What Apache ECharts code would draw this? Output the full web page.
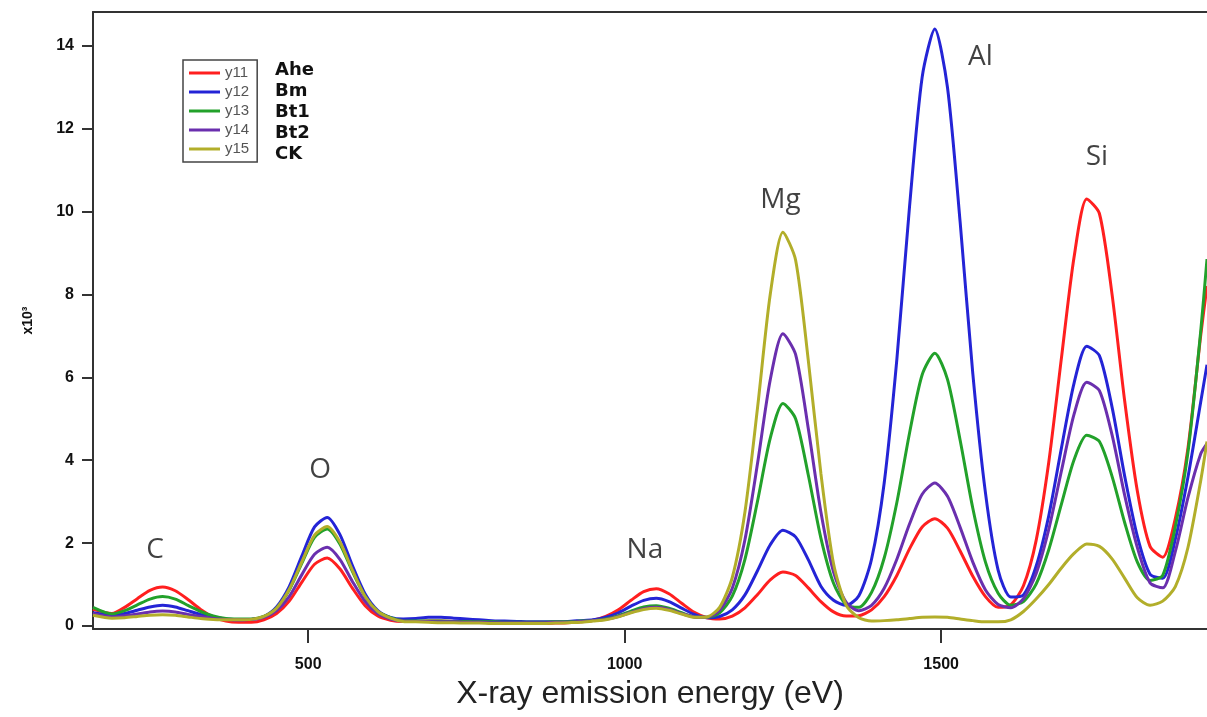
<!DOCTYPE html>
<html>
<head>
<meta charset="utf-8">
<script src="https://cdn.jsdelivr.net/npm/echarts@6/dist/echarts.min.js"></script>
<style>
html,body{margin:0;padding:0;background:#fff;}
#chart{width:1207px;height:717px;}
</style>
</head>
<body>
<div id="chart"></div>
<script>
// X-ray emission energy (eV)
const energy = [160,190,210,230,250,270,290,310,330,350,370,390,410,430,450,470,490,510,530,550,570,590,610,630,650,670,690,710,730,750,770,790,810,830,850,870,890,910,930,950,970,990,1010,1030,1050,1070,1090,1110,1130,1150,1170,1190,1210,1230,1250,1270,1290,1310,1330,1350,1370,1390,1410,1430,1450,1470,1490,1510,1530,1550,1570,1590,1610,1630,1650,1670,1690,1710,1730,1750,1770,1790,1810,1830,1850,1870,1890,1910,1920];

// counts, x10^3
const ahe = [0.40,0.30,0.45,0.66,0.86,0.94,0.85,0.64,0.40,0.22,
  0.12,0.09,0.09,0.15,0.30,0.60,1.06,1.49,1.64,1.38,
  0.91,0.49,0.24,0.14,0.11,0.11,0.12,0.12,0.11,0.10,
  0.09,0.08,0.07,0.07,0.06,0.06,0.07,0.08,0.10,0.14,
  0.23,0.39,0.62,0.83,0.90,0.78,0.55,0.33,0.20,0.17,
  0.24,0.44,0.76,1.11,1.30,1.22,0.92,0.59,0.34,0.24,
  0.25,0.39,0.71,1.22,1.86,2.39,2.59,2.36,1.81,1.20,
  0.71,0.45,0.51,0.97,2.06,3.95,6.46,8.90,10.30,9.95,
  8.00,5.42,3.25,1.92,1.66,2.60,4.30,7.00,8.20];

const bm = [0.32,0.26,0.30,0.38,0.46,0.50,0.46,0.37,0.28,0.21,
  0.17,0.15,0.16,0.23,0.46,0.95,1.69,2.39,2.62,2.21,
  1.45,0.77,0.37,0.21,0.17,0.18,0.21,0.21,0.19,0.17,
  0.15,0.13,0.12,0.11,0.10,0.10,0.10,0.11,0.13,0.15,
  0.21,0.32,0.48,0.62,0.67,0.59,0.43,0.28,0.20,0.23,
  0.39,0.75,1.34,1.96,2.31,2.15,1.60,0.96,0.62,0.50,
  0.73,1.61,3.45,6.43,10.11,13.24,14.40,12.99,9.74,6.09,
  3.21,1.35,0.70,0.75,1.44,2.66,4.29,5.86,6.75,6.52,
  5.28,3.61,2.16,1.25,1.15,2.10,3.60,5.40,6.30];

const bt1 = [0.45,0.29,0.37,0.51,0.65,0.71,0.65,0.50,0.35,0.24,
  0.18,0.17,0.17,0.23,0.43,0.87,1.52,2.14,2.34,1.98,
  1.31,0.71,0.35,0.20,0.13,0.12,0.12,0.12,0.11,0.11,
  0.10,0.10,0.09,0.09,0.09,0.09,0.10,0.10,0.12,0.13,
  0.17,0.25,0.36,0.46,0.49,0.43,0.32,0.22,0.21,0.32,
  0.72,1.61,3.02,4.53,5.37,5.00,3.65,2.12,1.03,0.51,
  0.45,0.81,1.64,2.98,4.65,6.06,6.58,5.95,4.48,2.84,
  1.54,0.79,0.50,0.59,1.01,1.84,2.94,4.01,4.60,4.45,
  3.61,2.49,1.54,1.10,1.22,2.40,4.20,7.10,8.85];

const bt2 = [0.30,0.22,0.25,0.29,0.34,0.36,0.34,0.28,0.23,0.18,
  0.16,0.15,0.16,0.21,0.37,0.71,1.24,1.73,1.90,1.61,
  1.07,0.59,0.30,0.17,0.12,0.11,0.11,0.10,0.10,0.09,
  0.09,0.08,0.08,0.08,0.08,0.08,0.09,0.09,0.11,0.13,
  0.16,0.23,0.33,0.42,0.45,0.40,0.30,0.22,0.21,0.38,
  0.91,2.08,3.93,5.94,7.05,6.55,4.77,2.75,1.30,0.57,
  0.37,0.50,0.91,1.61,2.46,3.18,3.45,3.13,2.38,1.54,
  0.87,0.52,0.44,0.66,1.26,2.33,3.74,5.11,5.88,5.68,
  4.61,3.15,1.89,1.04,0.92,1.80,3.10,4.15,4.40];

const ck = [0.26,0.19,0.20,0.23,0.26,0.27,0.26,0.22,0.18,0.16,
  0.15,0.15,0.16,0.23,0.43,0.88,1.55,2.19,2.40,2.03,
  1.34,0.71,0.35,0.19,0.11,0.10,0.09,0.08,0.08,0.07,
  0.07,0.06,0.06,0.06,0.06,0.06,0.07,0.08,0.09,0.12,
  0.15,0.22,0.32,0.40,0.43,0.38,0.29,0.21,0.22,0.45,
  1.17,2.75,5.28,8.00,9.50,8.83,6.42,3.68,1.50,0.50,
  0.20,0.12,0.13,0.15,0.18,0.21,0.22,0.21,0.17,0.13,
  0.10,0.10,0.15,0.35,0.65,1.00,1.40,1.75,1.98,1.92,
  1.62,1.15,0.68,0.50,0.60,0.95,1.90,3.50,4.45];

const legendNames = ['y11','y12','y13','y14','y15'];
const sampleNames = ['Ahe','Bm','Bt1','Bt2','CK'];
const xTicks = [500,1000,1500];
const yTicks = [0,2,4,6,8,10,12,14];

// element labels placed at (energy, height) in data units
const peakNames = ['C','O','Na','Mg','Al','Si'];
const peakEnergy = [258,519,1032,1246,1562,1746];
const peakHeight = [1.83,3.76,1.83,10.28,13.73,11.31];

const seriesValues = [ahe, bm, bt1, bt2, ck];
const colors = ['#ff1f1f','#2424d6','#22a12a','#6a2fae','#b2ae2a'];

const chart = echarts.init(document.getElementById('chart'), null, {renderer:'canvas'});

const lineSeries = seriesValues.map((vals, k) => ({
  name: legendNames[k],
  type: 'line',
  symbol: 'none',
  showSymbol: false,
  smooth: 0.25,
  lineStyle: {color: colors[k], width: 3},
  itemStyle: {color: colors[k]},
  data: energy.map((e, i) => [e, vals[i]]),
  z: 2
}));

const labelSeries = {
  type: 'scatter',
  symbolSize: 1,
  itemStyle: {color: 'rgba(0,0,0,0)'},
  silent: true,
  z: 5,
  label: {
    show: true,
    position: 'inside',
    formatter: p => p.name,
    fontFamily: 'Open Sans',
    fontSize: 28,
    color: '#111'
  },
  data: peakNames.map((n, i) => ({name: n, value: [peakEnergy[i], peakHeight[i]]}))
};

const axisColor = '#333';
const tickFont = {fontFamily: 'Liberation Sans', fontWeight: 'bold', fontSize: 16, color: '#111'};

chart.setOption({
  animation: false,
  backgroundColor: '#fff',
  grid: {left: 93, right: 0, top: 12, bottom: 88},
  legend: {
    data: legendNames,
    orient: 'vertical',
    left: 183,
    top: 60,
    padding: [5, 8, 5, 6],
    itemGap: 3,
    icon: 'rect',
    itemWidth: 31,
    itemHeight: 3,
    borderColor: '#444',
    borderWidth: 1.5,
    backgroundColor: '#fff',
    textStyle: {fontFamily: 'Liberation Sans', fontSize: 15, lineHeight: 16, color: '#555'}
  },
  xAxis: [{
    type: 'value',
    min: 160,
    max: 1920,
    axisLine: {show: true, onZero: false, lineStyle: {color: axisColor, width: 2}},
    axisTick: {show: true, customValues: xTicks, length: 14, lineStyle: {color: axisColor, width: 2}},
    axisLabel: Object.assign({customValues: xTicks, margin: 28, formatter: v => String(v)}, tickFont),
    splitLine: {show: false},
    name: 'X-ray emission energy (eV)',
    nameLocation: 'middle',
    nameGap: 48,
    nameTextStyle: {fontFamily: 'Liberation Sans', fontSize: 32, color: '#222'}
  }, {
    type: 'value',
    position: 'top',
    min: 160,
    max: 1920,
    axisLine: {show: true, onZero: false, lineStyle: {color: axisColor, width: 2}},
    axisTick: {show: false},
    axisLabel: {show: false},
    splitLine: {show: false}
  }],
  yAxis: {
    type: 'value',
    min: -0.072,
    max: 14.81,
    axisLine: {show: true, onZero: false, lineStyle: {color: axisColor, width: 2}},
    axisTick: {show: true, customValues: yTicks, length: 11, lineStyle: {color: axisColor, width: 2}},
    axisLabel: Object.assign({customValues: yTicks, margin: 19, formatter: v => String(v)}, tickFont),
    splitLine: {show: false},
    name: 'x10³',
    nameLocation: 'middle',
    nameRotate: 90,
    nameGap: 58,
    nameTextStyle: {fontFamily: 'Liberation Sans', fontWeight: 'bold', fontSize: 14, color: '#111'}
  },
  graphic: sampleNames.map((n, i) => ({
    type: 'text',
    left: 275,
    top: 61 + i * 21,
    style: {text: n, fontFamily: 'DejaVu Sans', fontWeight: 'bold', fontSize: 18, fill: '#111'}
  })),
  series: lineSeries.concat([labelSeries])
});
</script>
</body>
</html>
